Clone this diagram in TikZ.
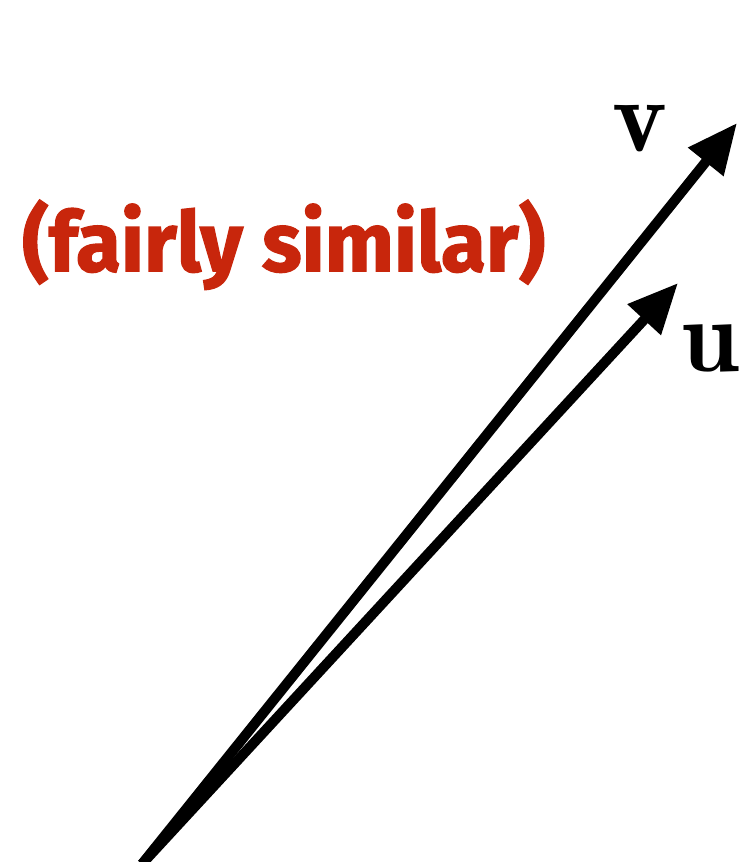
\documentclass[tikz,border=0pt]{standalone}
\usepackage{fontspec}
\usepackage{graphicx}
\usetikzlibrary{arrows.meta}
\newfontfamily\labelfont{Fira Sans}[BoldFeatures={FakeBold=1.6}]
\definecolor{simred}{RGB}{200,38,12}
\begin{document}
\begin{tikzpicture}[x=1pt,y=1pt,
  vecarrow/.style={line width=10pt,-{Triangle[length=50pt,width=43pt]}},
  veclabel/.style={inner sep=0pt,font=\fontsize{104}{104}\selectfont}]
\useasboundingbox (0,0) rectangle (742,862);
\clip (0,0) rectangle (742,862);
\coordinate (o) at (142,-2);
\coordinate (vtip) at (737,739);
\coordinate (utip) at (678,579);
\draw[vecarrow] (o) -- (vtip);
\draw[vecarrow] (o) -- (utip);
\node[veclabel] (vlab) at (640,733) {$\mathbf{v}$};
\node[veclabel,anchor=east] (ulab) at (740,514) {$\mathbf{u}$};
\node[inner sep=0pt,anchor=south west,text=simred] (caption) at (22,572)
  {\resizebox*{523pt}{90pt}{\labelfont\bfseries (fairly similar)}};
\end{tikzpicture}
\end{document}
